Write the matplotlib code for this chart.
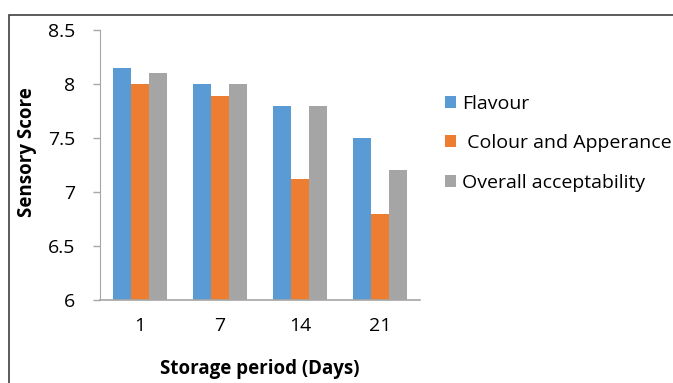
import matplotlib.pyplot as plt
from matplotlib.patches import Rectangle
import numpy as np

# storage days and sensory scores
days = ['1', '7', '14', '21']
flavour = [8.15, 8.0, 7.8, 7.5]
colour_appearance = [8.0, 7.89, 7.12, 6.8]
overall = [8.1, 8.0, 7.8, 7.2]
series_names = ['Flavour', ' Colour and Apperance', 'Overall acceptability']
series_colors = ['#5B9BD5', '#ED7D31', '#A5A5A5']

plt.rcParams['font.family'] = ['Open Sans', 'DejaVu Sans']

fig = plt.figure(figsize=(6.73, 3.83), dpi=100)
ax = fig.add_axes([100 / 673, 1 - 300 / 383, 320 / 673, 270 / 383])

x = np.arange(len(days))
width = 0.225
all_series = [flavour, colour_appearance, overall]
for i, vals in enumerate(all_series):
    ax.bar(x + (i - 1) * width, np.array(vals) - 6, width, bottom=6,
           color=series_colors[i], label=series_names[i])

ax.set_xlim(-0.5, 3.5)
ax.set_ylim(6, 8.5)
ax.set_yticks([6, 6.5, 7, 7.5, 8, 8.5])
ax.set_yticklabels(['6', '6.5', '7', '7.5', '8', '8.5'])
ax.set_xticks(x)
ax.set_xticklabels(days)
ax.tick_params(axis='x', length=0, pad=12, labelsize=14, colors='#000000')
ax.tick_params(axis='y', length=5, width=1, color='#a6a6a6', pad=13, labelsize=14)

for side in ['top', 'right']:
    ax.spines[side].set_visible(False)
ax.spines['left'].set_color('#a6a6a6')
ax.spines['bottom'].set_color('#a6a6a6')
ax.spines['bottom'].set_linewidth(1.2)

ax.set_xlabel('Storage period (Days)', fontweight='bold', fontsize=13.5)
ax.set_ylabel('Sensory Score', fontweight='bold', fontsize=13.5)
ax.xaxis.set_label_coords(0.5, -0.22)
ax.yaxis.set_label_coords(-0.197, 0.548)

ax.legend(loc='upper left', bbox_to_anchor=(437 / 673, 1 - 87 / 383),
          bbox_transform=fig.transFigure, frameon=False, fontsize=14,
          handlelength=0.6, handleheight=0.6, handletextpad=0.3,
          labelspacing=1.1, borderaxespad=0)

# outer frame of the picture
fig.patches.append(Rectangle((9 / 673, -0.1), 1.0, 1.1 - 15 / 383 + 0.0,
                             transform=fig.transFigure, fill=False,
                             edgecolor='#404040', linewidth=1.2))

fig.savefig('out.png', dpi=100)
